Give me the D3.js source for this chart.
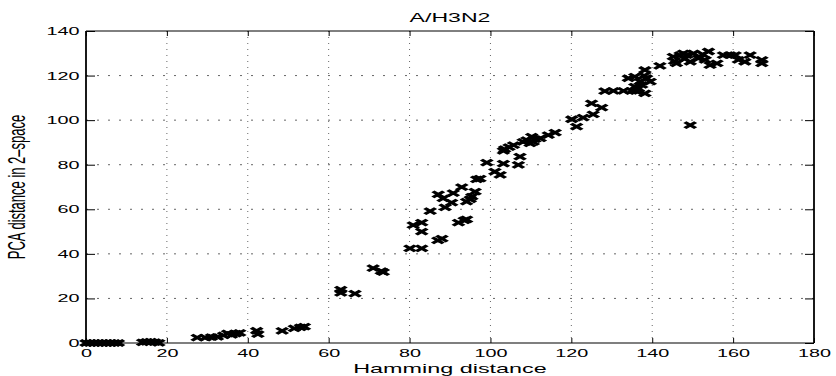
<!DOCTYPE html>
<html><head><meta charset="utf-8">
<script src="https://cdn.jsdelivr.net/npm/d3@7"></script>
<style>body{margin:0;background:#fff}svg{display:block}text{font-family:"Liberation Sans",Arial,Helvetica,sans-serif;fill:#000}</style>
</head><body><svg id="c" width="836" height="376"></svg>
<script>
const title = "A/H3N2";
const xLabel = "Hamming distance";
const yLabel = "PCA distance in 2\u2013space";
const xTicks = [0,20,40,60,80,100,120,140,160,180];
const yTicks = [0,20,40,60,80,100,120,140];
const hamming = [0,1,2,3,4,5,6,7,8,
 14,15,16,17,18,
 27.5,29.5,31,32.5,34,35,36,37,38,
 42.2,42.5,48.5,51.5,53,54,
 63,63,66.5,71,73,73.5,
 80.1,83,87,88,80.9,83,83,85.1,92.1,93.5,94.1,87.1,88.3,90.4,88.8,90.8,92.9,94.1,95.4,96.2,95,96.6,97.4,
 99.1,101.1,102.4,103.2,106.9,107.3,103.2,103.5,104.6,105.7,108.1,109.8,110.2,110.6,111,112.3,114.3,116,109,
 120.1,121.3,122.9,125,125.4,127.5,128.3,
 130.4,132.9,134.9,136,134.1,135.7,137,138.2,138.6,139.5,138.2,136.6,135.7,137.4,138,
 141.9,145.2,145.5,146,146.9,148.5,150.2,149.4,147.7,148,151.4,152.5,153.9,153.1,154.3,156,157.6,159.2,160.5,161.3,162.9,164.2,167.1,167.1,149.4];
const pcaDist = [0,0,0,0,0,0,0,0,0,
 0.3,0.5,0.6,0.4,0.1,
 2.4,2.4,2.6,2.8,3.4,4.3,3.6,4.2,4.5,
 5.5,4,5.4,6.6,7,7.3,
 24,22.5,22.2,33.6,32.3,31.8,
 42.5,42.5,46,46.8,52.9,54,50,59.2,54,55,55.5,66.7,64.9,63,60.9,67.2,69.9,63.4,65.7,67.9,64.5,73.4,73.8,
 80.9,76.9,75.4,80.5,79.9,83.6,86.2,87,87.9,88.8,90.3,89.6,92.6,90.3,91.5,91.8,93.3,94.4,91,
 100.4,97.1,101.1,107.5,102.6,105.6,113,
 113.1,113.1,113.1,113,118.8,119.5,117.3,122.5,118.8,117.3,112,114.3,115,115.8,120,
 124.3,128.5,126.5,125.5,129.2,129.2,130,126.2,130,127.5,127.7,129.5,130.8,127,124.7,125.5,129.2,129.2,129.2,127,126.2,129.2,127,125.5,97.8];

const SX = 1.8;
const svg = d3.select("#c");
const L = 86, R = 814, T = 31, B = 343;
const x = d3.scaleLinear().domain([0,180]).range([L,R]);
const y = d3.scaleLinear().domain([0,140]).range([B,T]);

// grid
const grid = svg.append("g");
grid.selectAll("line.v").data(xTicks.slice(1,-1)).join("line")
  .attr("x1",d=>x(d)).attr("x2",d=>x(d)).attr("y1",T).attr("y2",B)
  .attr("stroke","#666").attr("stroke-width",1).attr("stroke-dasharray","1,5");
grid.selectAll("line.h").data(yTicks.slice(1,-1)).join("line")
  .attr("x1",L).attr("x2",R).attr("y1",d=>y(d)).attr("y2",d=>y(d))
  .attr("stroke","#666").attr("stroke-width",1).attr("stroke-dasharray","2,9");

// axes
const xb = svg.append("g").attr("transform",`translate(0,${B})`)
  .call(d3.axisBottom(x).tickValues(xTicks).tickSize(-5).tickSizeOuter(0).tickPadding(6));
const xt = svg.append("g").attr("transform",`translate(0,${T})`)
  .call(d3.axisTop(x).tickValues(xTicks).tickSize(-5).tickSizeOuter(0).tickFormat(""));
const yl = svg.append("g").attr("transform",`translate(${L},0)`)
  .call(d3.axisLeft(y).tickValues(yTicks).tickSize(-9).tickSizeOuter(0).tickPadding(3.6));
const yr = svg.append("g").attr("transform",`translate(${R},0)`)
  .call(d3.axisRight(y).tickValues(yTicks).tickSize(-9).tickSizeOuter(0).tickFormat(""));
[xb,xt,yl,yr].forEach(g=>{
  g.select(".domain").remove();
  g.selectAll(".tick line").attr("stroke","#000");
});
xb.selectAll(".tick text").attr("font-size",11).attr("font-family","Liberation Sans, Arial, sans-serif")
  .attr("transform",`scale(${SX},1)`);
yl.selectAll(".tick text").attr("font-size",11).attr("font-family","Liberation Sans, Arial, sans-serif")
  .attr("transform",`scale(${SX},1)`);

// box
svg.append("line").attr("x1",L).attr("x2",R).attr("y1",T).attr("y2",T).attr("stroke","#000").attr("stroke-width",1);
svg.append("line").attr("x1",L).attr("x2",R).attr("y1",B).attr("y2",B).attr("stroke","#000").attr("stroke-width",1.2);
svg.append("line").attr("x1",L).attr("x2",L).attr("y1",T).attr("y2",B).attr("stroke","#000").attr("stroke-width",1.8);
svg.append("line").attr("x1",R).attr("x2",R).attr("y1",T).attr("y2",B).attr("stroke","#000").attr("stroke-width",1.8);

// points
const pts = hamming.map((h,i)=>({h, p:pcaDist[i]}));
svg.append("g").selectAll("path").data(pts).join("path")
  .attr("transform",d=>`translate(${x(d.h)},${y(d.p)}) scale(${SX},1)`)
  .attr("d","M-3,-3L3,3M-3,3L3,-3")
  .attr("stroke","#000").attr("stroke-width",2.5).attr("fill","none");

// labels
svg.append("text").attr("transform",`translate(${(L+R)/2},21.5) scale(${SX*0.95},1)`)
  .attr("text-anchor","middle").attr("font-size",13.5).text(title);
svg.append("text").attr("transform",`translate(${(L+R)/2},373) scale(${SX},1)`)
  .attr("text-anchor","middle").attr("font-size",13).text(xLabel);
svg.append("text").attr("transform",`translate(25,${(T+B)/2}) scale(${SX},1) rotate(-90)`)
  .attr("text-anchor","middle").attr("font-size",13).text(yLabel);
</script></body></html>
